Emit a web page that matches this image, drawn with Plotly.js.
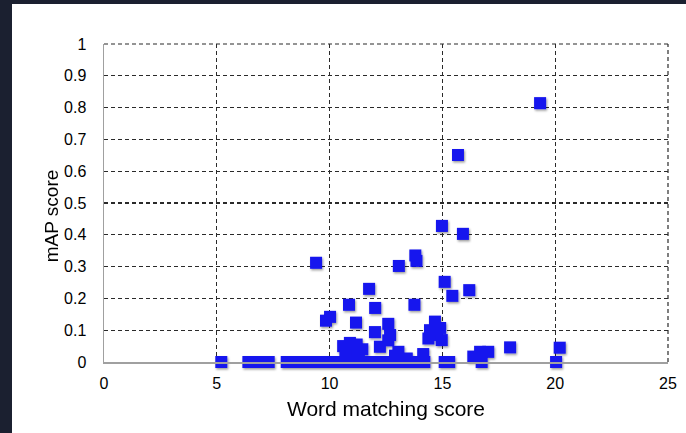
<!DOCTYPE html>
<html>
<head>
<meta charset="utf-8">
<script src="https://cdn.plot.ly/plotly-3.0.1.min.js"></script>
<style>
  html, body { margin: 0; padding: 0; width: 686px; height: 433px; background: #1b2030; overflow: hidden; }
  #chart { position: absolute; left: 12px; top: 4px; width: 674px; height: 429px; background: #ffffff; }
</style>
</head>
<body>
<div id="chart"></div>
<script>
// Word matching score (x) vs mAP score (y)
var wordScore = [
  19.33, 15.69, 14.98, 15.91, 13.80, 13.85, 9.40, 13.07, 11.75, 15.10,
  15.44, 16.19, 10.86, 12.02, 13.76, 10.02, 9.84, 11.17, 12.60, 12.01,
  12.68, 12.60, 12.23, 14.67, 14.45, 14.90, 14.74, 14.38, 14.97, 14.15,
  13.05, 13.42, 10.60, 10.90, 11.20, 11.45, 11.00, 10.70, 11.30, 16.37,
  16.67, 17.03, 18.00, 20.20, 12.90,
  5.2, 6.4, 6.7, 7.0, 7.3, 8.1, 8.4, 8.7, 9.0, 9.3,
  9.6, 9.9, 10.2, 10.5, 10.8, 11.1, 11.4, 11.7, 12.0, 12.3,
  12.6, 12.9, 13.2, 13.5, 13.7, 14.0, 14.2, 15.1, 15.3, 16.74,
  20.04
];
var mapScore = [
  0.814, 0.651, 0.428, 0.403, 0.335, 0.318, 0.312, 0.302, 0.230, 0.252,
  0.208, 0.226, 0.180, 0.170, 0.180, 0.142, 0.130, 0.124, 0.120, 0.094,
  0.085, 0.068, 0.048, 0.127, 0.100, 0.107, 0.085, 0.074, 0.069, 0.025,
  0.032, 0.011, 0.050, 0.060, 0.055, 0.040, 0.030, 0.020, 0.015, 0.017,
  0.032, 0.032, 0.046, 0.045, 0.020,
  0, 0, 0, 0, 0, 0, 0, 0, 0, 0,
  0, 0, 0, 0, 0, 0, 0, 0, 0, 0,
  0, 0, 0, 0, 0, 0, 0, 0, 0, 0,
  0
];
var xTicks = [0, 5, 10, 15, 20, 25];
var yTicks = [0, 0.1, 0.2, 0.3, 0.4, 0.5, 0.6, 0.7, 0.8, 0.9, 1];
var yTickText = ['0', '0.1', '0.2', '0.3', '0.4', '0.5', '0.6', '0.7', '0.8', '0.9', '1'];
var xTitle = 'Word matching score';
var yTitle = 'mAP score';

var FONT = 'Liberation Sans, Arial, Helvetica, sans-serif';
var GRID = '#2a2a2a';

var trace = {
  x: wordScore,
  y: mapScore,
  type: 'scatter',
  mode: 'markers',
  cliponaxis: false,
  marker: { symbol: 'square', size: 12, color: '#1414ee', line: { width: 0 } },
  hoverinfo: 'x+y'
};

var layout = {
  width: 674,
  height: 429,
  margin: { l: 92, r: 18, t: 40, b: 71 },
  paper_bgcolor: '#ffffff',
  plot_bgcolor: '#ffffff',
  showlegend: false,
  font: { family: FONT, size: 16, color: '#000000' },
  xaxis: {
    range: [0, 25],
    tickvals: xTicks,
    ticktext: xTicks.map(String),
    ticks: '',
    ticklabelstandoff: 6,
    showgrid: true,
    gridcolor: GRID,
    gridwidth: 1.2,
    griddash: '4px,3px',
    zeroline: false,
    showline: true,
    linecolor: '#a0a0a0',
    linewidth: 1.5,
    tickfont: { family: FONT, size: 16, color: '#000' },
    title: { text: xTitle, font: { family: FONT, size: 21, color: '#000' }, standoff: 10 },
    fixedrange: true
  },
  yaxis: {
    range: [0, 1],
    tickvals: yTicks,
    ticktext: yTickText,
    ticks: '',
    ticklabelstandoff: 13,
    showgrid: true,
    gridcolor: GRID,
    gridwidth: 1.2,
    griddash: '4px,3px',
    zeroline: false,
    showline: true,
    linecolor: '#a0a0a0',
    linewidth: 1.5,
    tickfont: { family: FONT, size: 16, color: '#000' },
    fixedrange: true
  },
  annotations: [
    { text: yTitle, xref: 'paper', yref: 'paper', x: -0.093, y: 0.46,
      xanchor: 'center', yanchor: 'middle', textangle: -90, showarrow: false,
      font: { family: FONT, size: 19, color: '#000' } }
  ],
  shapes: [
    { type: 'line', xref: 'paper', yref: 'paper', x0: 0, x1: 1, y0: 1, y1: 1,
      line: { color: GRID, width: 1.2, dash: '4px,3px' }, layer: 'below' },
    { type: 'line', xref: 'paper', yref: 'paper', x0: 1, x1: 1, y0: 0, y1: 1,
      line: { color: GRID, width: 1.2, dash: '4px,3px' }, layer: 'below' }
  ]
};

Plotly.newPlot('chart', [trace], layout, { displayModeBar: false, staticPlot: true }).then(function () {
  // soft drop shadow under the square markers, as in the reference
  var svg = document.querySelector('#chart .main-svg');
  if (!svg) return;
  var NS = 'http://www.w3.org/2000/svg';
  var defs = svg.querySelector('defs') || svg.insertBefore(document.createElementNS(NS, 'defs'), svg.firstChild);
  var f = document.createElementNS(NS, 'filter');
  f.setAttribute('id', 'mkshadow');
  f.setAttribute('x', '-5%'); f.setAttribute('y', '-5%');
  f.setAttribute('width', '115%'); f.setAttribute('height', '120%');
  var ds = document.createElementNS(NS, 'feDropShadow');
  ds.setAttribute('dx', '1'); ds.setAttribute('dy', '1.5');
  ds.setAttribute('stdDeviation', '1');
  ds.setAttribute('flood-color', '#000');
  ds.setAttribute('flood-opacity', '0.4');
  f.appendChild(ds);
  defs.appendChild(f);
  var pts = document.querySelectorAll('#chart .scatterlayer .points');
  pts.forEach(function (g) { g.setAttribute('filter', 'url(#mkshadow)'); });
});
</script>
</body>
</html>
